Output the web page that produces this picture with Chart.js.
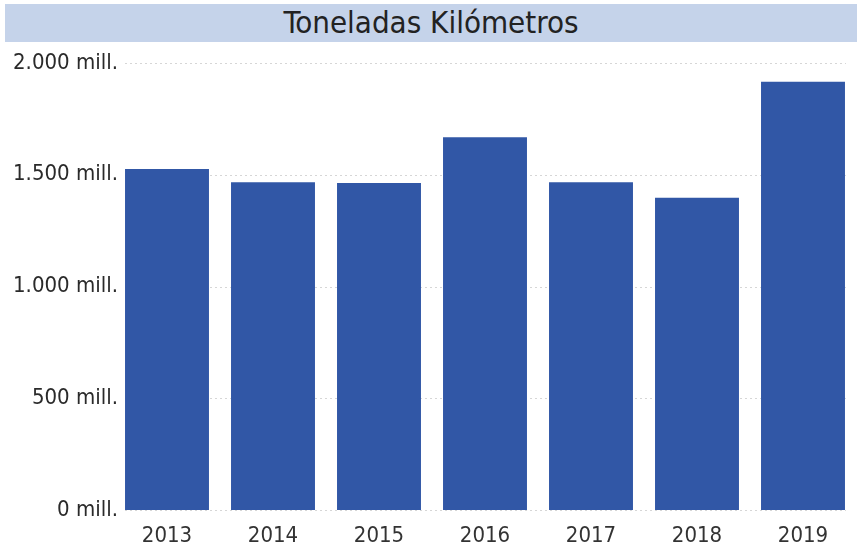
<!DOCTYPE html>
<html>
<head>
<meta charset="utf-8">
<script src="https://cdn.jsdelivr.net/npm/chart.js@4/dist/chart.umd.min.js"></script>
<style>
  html, body { margin: 0; padding: 0; background: #fff; }
  body { width: 862px; height: 551px; position: relative; overflow: hidden; }
  #titleBar {
    position: absolute; left: 5px; top: 4px; width: 852px; height: 38px;
    background: #c5d3ea; color: #222;
    font-family: "DejaVu Sans Condensed", "Liberation Sans Narrow", sans-serif;
    font-size: 31px; line-height: 37px; text-align: center;
  }
  #wrap { position: absolute; left: 0; top: 44px; width: 862px; height: 507px; }
</style>
</head>
<body>
<div id="titleBar">Toneladas Kilómetros</div>
<div id="wrap"><canvas id="tkChart"></canvas></div>
<script>
// datos (millones de t-km)
const years = ['2013', '2014', '2015', '2016', '2017', '2018', '2019'];
const tonKm = [1526, 1467, 1463, 1668, 1467, 1397, 1916];
const yTicks = [0, 500, 1000, 1500, 2000];

const FONT = '"DejaVu Sans Condensed", "Liberation Sans Narrow", sans-serif';
const BAR_PCT = 0.792;

function fmtMill(v) {
    const s = String(v).replace(/\B(?=(\d{3})+(?!\d))/g, '.');
    return s + ' mill.';
}

// rejilla punteada y etiquetas del eje Y alineadas con el borde de la primera barra
const yAxisDecor = {
    id: 'yAxisDecor',
    beforeDatasetsDraw(chart) {
        const { ctx, chartArea, scales } = chart;
        const inset = (chartArea.right - chartArea.left) / years.length * (1 - BAR_PCT) / 2;
        ctx.save();
        ctx.strokeStyle = '#d6d6d6';
        ctx.lineWidth = 1;
        ctx.setLineDash([2, 3]);
        yTicks.forEach(v => {
            const y = Math.round(scales.y.getPixelForValue(v)) + 0.5;
            ctx.beginPath();
            ctx.moveTo(chartArea.left + inset, y);
            ctx.lineTo(chartArea.right - inset + 1, y);
            ctx.stroke();
        });
        ctx.setLineDash([]);
        ctx.fillStyle = '#2a2a2a';
        ctx.font = '22px ' + FONT;
        ctx.textAlign = 'right';
        ctx.textBaseline = 'middle';
        yTicks.forEach(v => {
            ctx.fillText(fmtMill(v), chartArea.left + inset - 7, scales.y.getPixelForValue(v));
        });
        ctx.restore();
    }
};

new Chart(document.getElementById('tkChart'), {
    type: 'bar',
    data: {
        labels: years,
        datasets: [{
            data: tonKm,
            backgroundColor: '#3157a6',
            barPercentage: BAR_PCT,
            categoryPercentage: 1.0,
        }]
    },
    options: {
        responsive: true,
        maintainAspectRatio: false,
        animation: false,
        layout: { padding: { left: 5, right: 6, top: 19, bottom: 0 } },
        plugins: { legend: { display: false }, tooltip: { enabled: false } },
        scales: {
            x: {
                grid: { display: false },
                border: { display: false },
                ticks: { color: '#333', font: { family: FONT, size: 22 }, padding: 5 },
                afterFit: s => { s.height = 41; }
            },
            y: {
                min: 0, max: 2000,
                afterBuildTicks: s => { s.ticks = yTicks.map(v => ({ value: v })); },
                afterFit: s => { s.width = 109; },
                border: { display: false },
                grid: { display: false, drawTicks: false },
                ticks: { display: false }
            }
        }
    },
    plugins: [yAxisDecor]
});
</script>
</body>
</html>
